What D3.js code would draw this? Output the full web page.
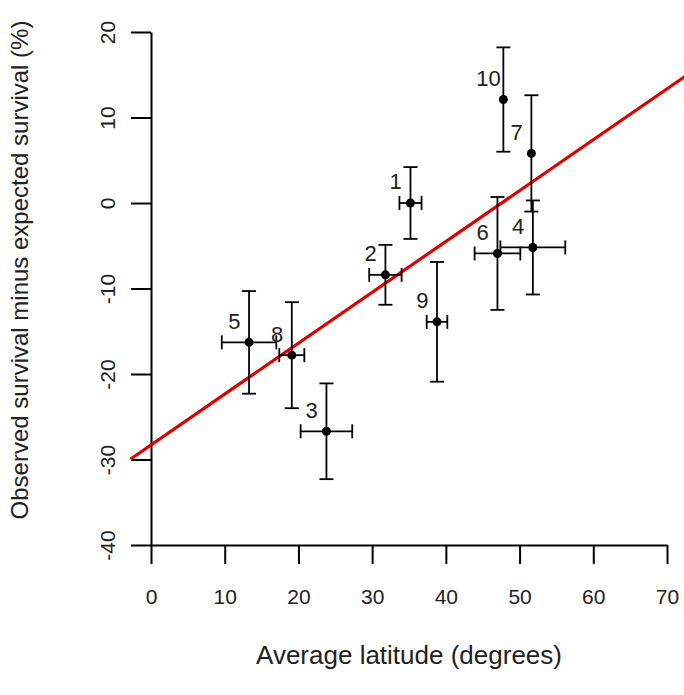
<!DOCTYPE html>
<html>
<head>
<meta charset="utf-8">
<script src="https://cdnjs.cloudflare.com/ajax/libs/d3/7.8.5/d3.min.js"></script>
<style>
  html, body { margin: 0; padding: 0; background: #fff; }
  svg { display: block; font-family: "Liberation Sans", Arial, sans-serif; }
</style>
</head>
<body>
<svg id="chart" width="684" height="695"></svg>
<script>
// site numbers, latitude (deg) and survival difference (%) with error bars
var siteIds = [1, 2, 3, 4, 5, 6, 7, 8, 9, 10];
var latitude = [35.2, 31.8, 23.8, 51.8, 13.3, 47.0, 51.6, 19.1, 38.8, 47.8];
var latitudeErr = [1.5, 2.2, 3.5, 4.4, 3.7, 3.1, 0, 1.7, 1.4, 0];
var survivalDiff = [0.0, -8.4, -26.7, -5.2, -16.3, -5.9, 5.8, -17.8, -13.9, 12.1];
var survivalErr = [4.2, 3.5, 5.6, 5.5, 6.0, 6.6, 6.8, 6.2, 7.0, 6.1];

// fitted line: intercept, slope
var fitLine = [-28.3, 0.595];

var xTicks = [0, 10, 20, 30, 40, 50, 60, 70];
var yTicks = [-40, -30, -20, -10, 0, 10, 20];

var svg = d3.select("#chart");
var x = d3.scaleLinear().domain([0, 70]).range([151, 667]);
var y = d3.scaleLinear().domain([-40, 20]).range([545, 32]);
var xPlot = [-2.8, 72.8]; // plot region (R 4% expansion)

var points = siteIds.map(function(id, i) {
  return {id: id, x: latitude[i], xe: latitudeErr[i], y: survivalDiff[i], ye: survivalErr[i]};
});

// plain hyphen for negatives, like R
var plain = function(d) { return String(d); };

// axes
var xAxis = d3.axisBottom(x).tickValues(xTicks).tickFormat(plain)
  .tickSize(19).tickSizeOuter(0).tickPadding(25);
var gx = svg.append("g").attr("transform", "translate(0," + y(-40) + ")").call(xAxis);

var yAxis = d3.axisLeft(y).tickValues(yTicks).tickFormat(plain)
  .tickSize(20).tickSizeOuter(0);
var gy = svg.append("g").attr("transform", "translate(" + x(0) + ",0)").call(yAxis);
gy.selectAll(".tick text")
  .attr("x", null).attr("dy", null)
  .attr("text-anchor", "middle")
  .attr("transform", "translate(-36,0) rotate(-90)");

[gx, gy].forEach(function(g) {
  g.selectAll("path, line").attr("stroke", "#000").attr("stroke-width", 2);
  g.selectAll("text").attr("font-size", 21).attr("fill", "#222").attr("font-family", null);
});

// axis titles
svg.append("text")
  .attr("x", 409).attr("y", 664)
  .attr("text-anchor", "middle").attr("font-size", 26).attr("fill", "#222")
  .text("Average latitude (degrees)");
svg.append("text")
  .attr("transform", "translate(28,270) rotate(-90)")
  .attr("text-anchor", "middle").attr("font-size", 24).attr("fill", "#222")
  .text("Observed survival minus expected survival (%)");

// fitted line
svg.append("line")
  .attr("x1", x(xPlot[0])).attr("y1", y(fitLine[0] + fitLine[1] * xPlot[0]))
  .attr("x2", x(xPlot[1])).attr("y2", y(fitLine[0] + fitLine[1] * xPlot[1]))
  .attr("stroke", "#d80000").attr("stroke-width", 3.2);

// error bars
var cap = 7;
var bars = svg.append("g").attr("stroke", "#000").attr("stroke-width", 1.8).attr("fill", "none");
points.forEach(function(p) {
  var px = x(p.x), py = y(p.y);
  var top = y(p.y + p.ye), bot = y(p.y - p.ye);
  bars.append("line").attr("x1", px).attr("x2", px).attr("y1", top).attr("y2", bot);
  bars.append("line").attr("x1", px - cap).attr("x2", px + cap).attr("y1", top).attr("y2", top);
  bars.append("line").attr("x1", px - cap).attr("x2", px + cap).attr("y1", bot).attr("y2", bot);
  if (p.xe > 0) {
    var l = x(p.x - p.xe), r = x(p.x + p.xe);
    bars.append("line").attr("x1", l).attr("x2", r).attr("y1", py).attr("y2", py);
    bars.append("line").attr("x1", l).attr("x2", l).attr("y1", py - cap).attr("y2", py + cap);
    bars.append("line").attr("x1", r).attr("x2", r).attr("y1", py - cap).attr("y2", py + cap);
  }
});

// points
svg.append("g").selectAll("circle").data(points).join("circle")
  .attr("cx", function(d) { return x(d.x); })
  .attr("cy", function(d) { return y(d.y); })
  .attr("r", 4.5).attr("fill", "#000");

// site labels, offset up-left in data units
svg.append("g").selectAll("text").data(points).join("text")
  .attr("x", function(d) { return x(d.x - 2); })
  .attr("y", function(d) { return y(d.y + 2.5); })
  .attr("dy", "0.35em").attr("text-anchor", "middle")
  .attr("font-size", 22).attr("fill", "#222")
  .text(function(d) { return d.id; });
</script>
</body>
</html>
